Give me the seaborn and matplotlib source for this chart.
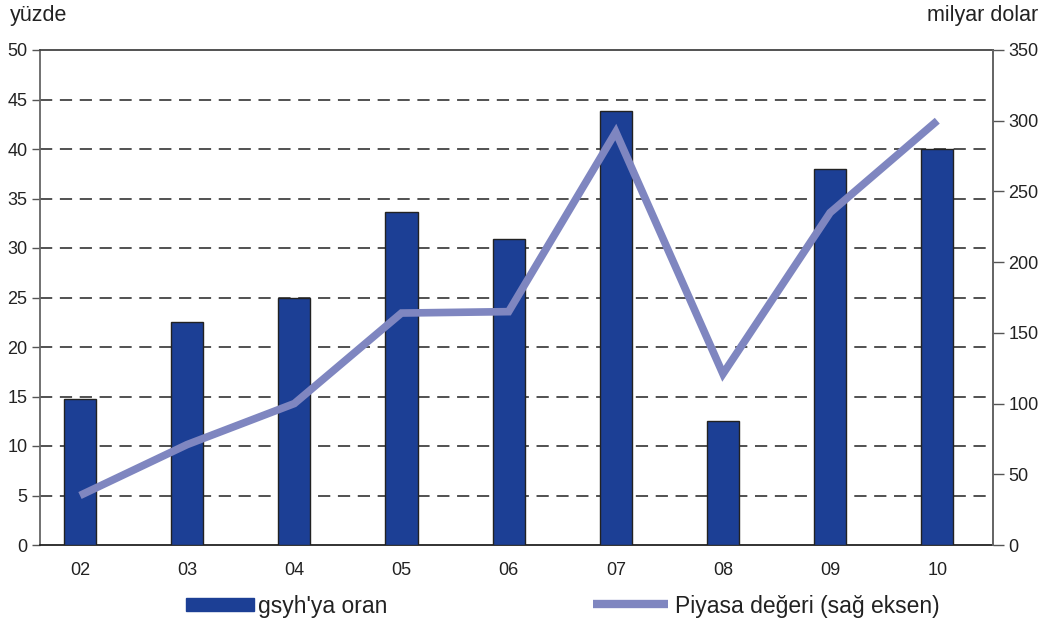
import numpy as np
import pandas as pd
import matplotlib
matplotlib.use("Agg")
import matplotlib.pyplot as plt
import seaborn as sns
from matplotlib.patches import Patch
from matplotlib.lines import Line2D

years = ["02", "03", "04", "05", "06", "07", "08", "09", "10"]
gdp_ratio = [14.7, 22.5, 24.9, 33.6, 30.9, 43.8, 12.5, 38.0, 40.0]
market_value = [35, 71, 100, 164, 165, 292, 121, 235, 300]
left_ticks = [0, 5, 10, 15, 20, 25, 30, 35, 40, 45, 50]
right_ticks = [0, 50, 100, 150, 200, 250, 300, 350]

sns.set_theme(style="white")
plt.rcParams['font.family'] = ['Liberation Sans', 'DejaVu Sans']

BAR = "#1C3F95"
LINE = "#7F86C0"
TXT = "#222222"
W, H = 1044, 623
fig = plt.figure(figsize=(W / 100, H / 100), dpi=100)
ax = fig.add_axes([40 / W, (H - 545) / H, (993 - 40) / W, (545 - 50) / H])

df = pd.DataFrame({"year": years, "ratio": gdp_ratio, "value": market_value})
sns.barplot(data=df, x="year", y="ratio", ax=ax, color=BAR, width=0.30,
            edgecolor="#222222", linewidth=1.0, saturation=1, zorder=3)

x0, x1 = -0.373, 8.52
ax.set_xlim(x0, x1)
ax.set_ylim(0, 50)
ax.set_yticks(left_ticks)
ax.set_yticklabels([str(t) for t in left_ticks], fontsize=13, color=TXT)
for t in left_ticks[1:-1]:
    ax.axhline(t, color="#222222", lw=1.1, ls=(0, (8, 5)), zorder=1)

ax.set_xticks(range(len(years)))
ax.set_xticklabels(years, fontsize=13, color=TXT)
ax.tick_params(axis="x", which="major", length=0, pad=12)
sep = np.linspace(x0, x1, len(years) + 1)
ax.set_xticks(sep, minor=True)
ax.tick_params(axis="x", which="minor", length=12, direction="inout", color="#333333", width=1.2)
ax.tick_params(axis="y", length=6, direction="out", color="#555555", width=1.0, pad=3, left=True)
ax.set_xlabel("")
ax.set_ylabel("")

for s in ["left", "right"]:
    ax.spines[s].set_color("#666666")
    ax.spines[s].set_linewidth(1.3)
ax.spines["top"].set_color("#444444")
ax.spines["top"].set_linewidth(1.3)
ax.spines["bottom"].set_color("#222222")
ax.spines["bottom"].set_linewidth(1.3)

ax2 = ax.twinx()
sns.lineplot(x=np.arange(len(years)), y=market_value, ax=ax2, color=LINE,
             linewidth=5.5, zorder=4, solid_joinstyle="miter", solid_capstyle="butt")
ax2.set_ylim(0, 350)
ax2.set_xlim(x0, x1)
ax2.set_yticks(right_ticks)
ax2.set_yticklabels([str(t) for t in right_ticks], fontsize=13, color=TXT)
ax2.tick_params(axis="y", length=8, direction="out", color="#555555", width=1.0, pad=3, right=True)
ax2.spines["right"].set_color("#666666")
ax2.spines["right"].set_linewidth(1.3)
for s in ["left", "top", "bottom"]:
    ax2.spines[s].set_visible(False)
ax2.set_ylabel("")

fig.text(10 / W, 1 - 16 / H, "yüzde", fontsize=15.5, color=TXT, va="center", ha="left")
fig.text(1038 / W, 1 - 16 / H, "milyar dolar", fontsize=15.5, color=TXT, va="center", ha="right")

FS = 16.5
leg1 = fig.legend(handles=[Patch(facecolor=BAR, edgecolor=BAR)], labels=["gsyh'ya oran"],
                  loc="center left", bbox_to_anchor=(165 / W, 1 - 606 / H), frameon=False,
                  fontsize=FS, handlelength=2.97, handleheight=0.52, handletextpad=0.17,
                  labelcolor=TXT)
leg2 = fig.legend(handles=[Line2D([], [], color=LINE, lw=6, solid_capstyle="butt")],
                  labels=["Piyasa değeri (sağ eksen)"],
                  loc="center left", bbox_to_anchor=(572 / W, 1 - 606 / H), frameon=False,
                  fontsize=FS, handlelength=3.28, handletextpad=0.3, labelcolor=TXT)

fig.savefig("out.png", dpi=100)
